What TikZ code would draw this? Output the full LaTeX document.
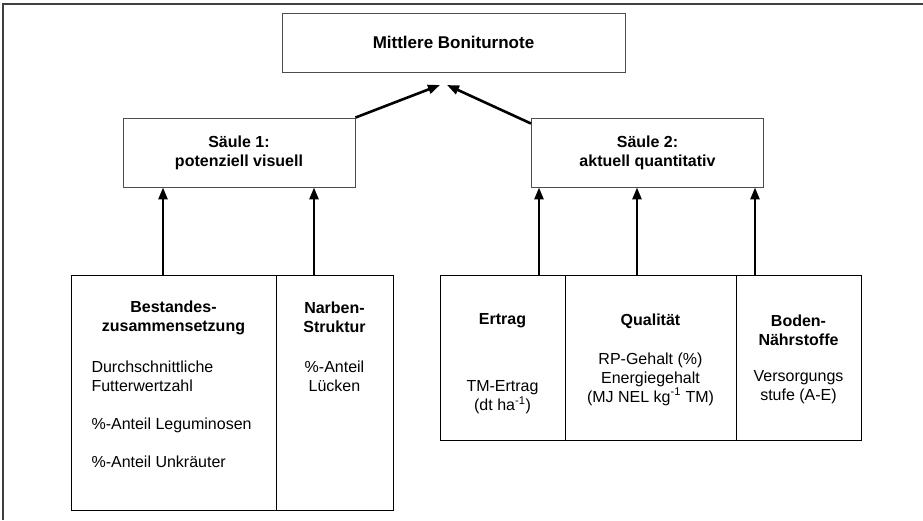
\documentclass[tikz,border=0pt]{standalone}
\usepackage{fontspec}
\setmainfont{Liberation Sans}
\usetikzlibrary{arrows.meta,calc}

\tikzset{
  every node/.append style={font=\fontsize{16}{19}\selectfont},
  box/.style={draw=black!70, line width=0.9pt, inner sep=0pt},
  cell/.style={draw=black, line width=1pt, inner sep=0pt, anchor=north west},
  pfeil/.style={line width=2.6pt, -{Triangle[length=12pt,width=9pt]}},
  kopf/.style={font=\fontsize{16}{19}\selectfont\bfseries, align=center},
  txt/.style={align=center},
}

\begin{document}
\begin{tikzpicture}[x=1pt, y=-1pt]
    \useasboundingbox (0,0) rectangle (923,520);

    % frame
    \draw [black!75, line width=1.8pt] (3,520) -- (3,4) -- (923,4);

    % top
    \node [box, minimum width=343pt, minimum height=59pt, font=\fontsize{17}{20}\selectfont\bfseries]
      (note) at (453.5, 42.5) {Mittlere Boniturnote};

    % pillars
    \node [box, kopf, minimum width=232pt, minimum height=69pt]
      (s1) at (239, 152.5) {Säule 1:\\potenziell visuell};
    \node [box, kopf, minimum width=232pt, minimum height=69pt]
      (s2) at (647.5, 152.5) {Säule 2:\\aktuell quantitativ};

    \coordinate (spitze1) at (440, 85);
    \coordinate (spitze2) at (447, 85);
    \draw [pfeil] (s1.north east) -- (spitze1);
    \draw [pfeil] ($(s2.north west)+(0,6)$) -- (spitze2);

    % cells
    \node [cell, minimum width=205pt, minimum height=235pt] (best) at ( 71, 275) {};
    \node [cell, minimum width=117pt, minimum height=235pt] (narb) at (276, 275) {};

    \node [cell, minimum width=125pt, minimum height=165pt] (ertr) at (440, 275) {};
    \node [cell, minimum width=171pt, minimum height=165pt] (qual) at (565, 275) {};
    \node [cell, minimum width=125pt, minimum height=165pt] (bode) at (736, 275) {};

    % arrows into the pillars
    \foreach \x/\n in {163/s1, 314/s1, 539/s2, 637/s2, 755/s2} {
      \coordinate (fuss) at (\x, 275);
      \draw [pfeil] (fuss) -- (fuss |- \n.south);
    }

    % texts, pillar 1
    \node [kopf] (hbest) at (173.5, 317.5) {Bestandes-\\zusammensetzung};
    \node [txt, align=left, anchor=west] (tbest) at (88, 414)
      {Durchschnittliche\\Futterwertzahl\\[19pt]\%-Anteil Leguminosen\\[19pt]\%-Anteil Unkräuter};

    \node [kopf] (hnarb) at (334.5, 317.5) {Narben-\\Struktur};
    \node [txt] (tnarb) at (334.5, 376.5) {\%-Anteil\\Lücken};

    % texts, pillar 2
    \node [kopf] (hertr) at (502.5, 321) {Ertrag};
    \node [txt] (tertr) at (502.5, 397.5) {TM-Ertrag\\(dt ha\textsuperscript{-1})};

    \node [kopf] (hqual) at (650.5, 321) {Qualität};
    \node [txt] (tqual) at (650.5, 379)
      {RP-Gehalt (\%)\\Energiegehalt\\(MJ NEL kg\textsuperscript{-1} TM)};

    \node [kopf] (hbode) at (798.5, 330.5) {Boden-\\Nährstoffe};
    \node [txt] (tbode) at (798.5, 387.5) {Versorgungs\\stufe (A-E)};
  \end{tikzpicture}
\end{document}
